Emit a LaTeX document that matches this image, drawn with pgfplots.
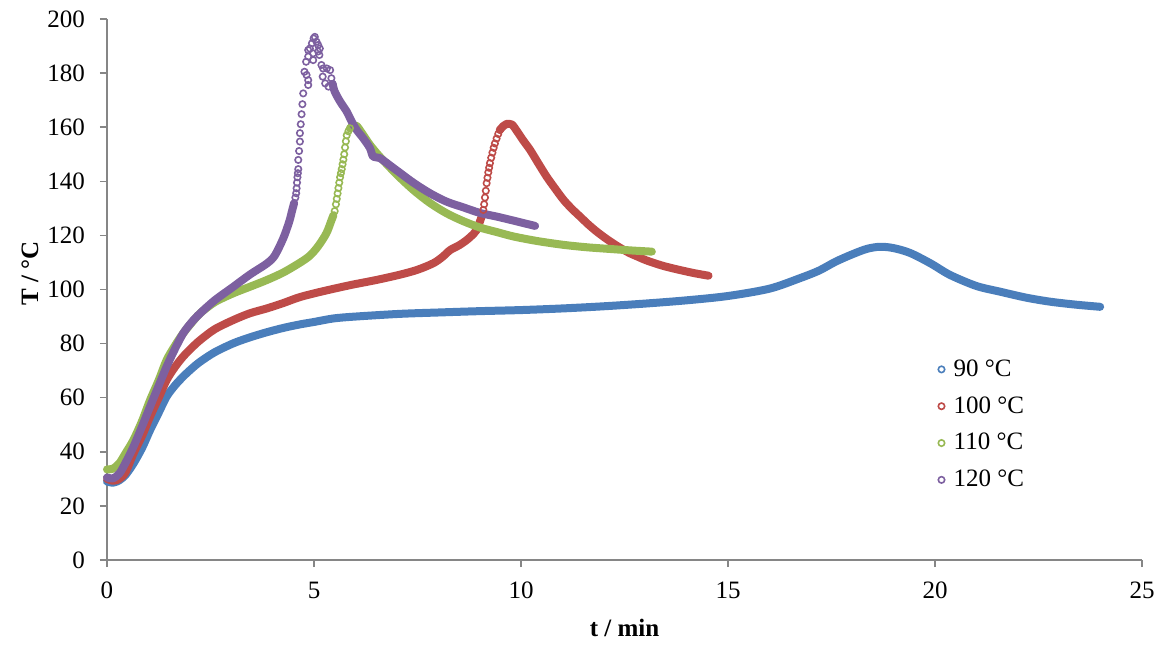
\documentclass[border=0pt]{standalone}
\usepackage{fontspec}
\setmainfont{Liberation Serif}
\usepackage{pgfplots}
\pgfplotsset{compat=1.18}
\definecolor{sblue}{HTML}{4A7EBB}
\definecolor{sred}{HTML}{BE4B48}
\definecolor{sgreen}{HTML}{98B954}
\definecolor{spurple}{HTML}{7D60A0}
\definecolor{axgray}{HTML}{868686}
\begin{document}
\begin{tikzpicture}
\begin{axis}[
  at={(0,0)}, anchor=south west,
  scale only axis, width=517.5pt, height=270.5pt,
  xmin=0, xmax=25, ymin=0, ymax=200,
  xtick={0,5,...,25}, ytick={0,20,...,200},
  axis lines*=left,
  axis line style={axgray, line width=0.75pt},
  tick style={axgray, line width=0.75pt},
  tick align=outside, major tick length=3.5pt,
  /pgf/number format/assume math mode=true,
  font=\fontsize{12.5pt}{14pt}\selectfont,
  ticklabel style={font=\fontsize{12.5pt}{14pt}\selectfont},
  yticklabel style={xshift=-4pt},
  xticklabel style={yshift=-4pt},
  xlabel={\textbf{t / min}}, ylabel={\textbf{T / °C}},
  xlabel style={at={(axis description cs:0.5,0)}, anchor=center, yshift=-34pt},
  ylabel style={at={(axis description cs:-0.0744,0.53)}, anchor=center},
  clip=false,
  legend style={draw=none, fill=none, at={(rel axis cs:0.797,0.386)}, anchor=north west,
    row sep=4.6pt, font=\fontsize{12.5pt}{14pt}\selectfont},
  legend cell align=left,
  dense/.style={line width=4pt, line cap=round, line join=round, smooth, tension=0.5, forget plot},
  sparse/.style={only marks, mark=o, mark size=1.6pt, line width=0.8pt, forget plot},
]
% 90 C
\addplot[sblue, dense] coordinates {(0,29)(0.15,28.6)(0.3,29.5)(0.45,31.5)(0.64,35.7)(0.85,41.5)(1.04,48)(1.25,54.5)(1.44,60.4)(1.64,64.5)(1.84,67.8)(2.05,70.8)(2.25,73.3)(2.6,76.8)(3.05,80.1)(3.45,82.3)(3.86,84.2)(4.26,85.8)(4.66,87.1)(5.0,88)(5.47,89.3)(6.0,90)(7.08,91)(8.0,91.5)(9.0,92)(10,92.4)(11,93)(12,93.8)(13,94.8)(14,96)(15,97.6)(16,100.3)(16.74,104.2)(17.2,107)(17.6,110.3)(18.0,113)(18.35,115)(18.67,115.8)(19.0,115.3)(19.4,113.5)(19.9,109.6)(20.36,105.4)(21.0,101.3)(21.57,99.2)(22.2,97)(22.78,95.5)(23.4,94.4)(23.99,93.6)};
% 100 C
\addplot[sred, dense] coordinates {(0,30)(0.15,29.3)(0.3,30)(0.45,32.5)(0.64,39.4)(0.85,46)(1.04,53)(1.25,60)(1.44,66.5)(1.64,71.3)(1.84,75.2)(2.05,78.5)(2.25,81.3)(2.6,85.3)(3.05,88.7)(3.45,91.2)(3.86,93)(4.26,95)(4.66,97.2)(5.2,99.3)(5.87,101.6)(6.5,103.5)(7.08,105.5)(7.5,107.3)(7.88,109.7)(8.1,112)(8.29,114.6)(8.5,116.3)(8.69,118.3)(8.85,120.5)(8.93,122)(9.01,125.2)(9.06,127.5)};
\addplot[sred, sparse] coordinates {(9.09,129.4)(9.11,131.5)(9.13,134)(9.15,136.5)(9.17,139.3)(9.19,141.3)(9.21,143.3)(9.23,145)(9.25,146.7)(9.28,148.7)(9.31,150.6)(9.34,152.4)(9.37,154)(9.41,155.8)(9.45,157.5)(9.49,159)};
\addplot[sred, dense] coordinates {(9.49,159)(9.57,160.4)(9.65,161.2)(9.78,161)(9.9,158.6)(10.05,155.2)(10.22,151.6)(10.42,146.6)(10.62,141.7)(10.83,137.2)(11.03,133.1)(11.23,129.8)(11.43,126.9)(11.63,124)(11.83,121.4)(12.03,119.1)(12.23,117)(12.43,115.1)(12.63,113.4)(12.84,112)(13.04,110.7)(13.44,108.7)(13.84,107.2)(14.2,106)(14.53,105.1)};
% 110 C
\addplot[sgreen, dense] coordinates {(0,33.5)(0.15,33.8)(0.3,35.8)(0.45,39.5)(0.64,44.4)(0.85,51.5)(1.04,59.1)(1.25,66.5)(1.44,73.9)(1.64,79.2)(1.84,83.8)(2.05,87.8)(2.25,91.2)(2.6,95.3)(3.05,98.6)(3.45,101)(3.86,103.5)(4.26,106.3)(4.66,109.9)(4.9,112.5)(5.1,116)(5.3,120.8)(5.42,125.5)(5.47,127.5)};
\addplot[sgreen, sparse] coordinates {(5.5,129)(5.53,131.5)(5.55,133.5)(5.57,135.5)(5.59,137.5)(5.61,139.5)(5.63,141.5)(5.65,143)(5.67,144.5)(5.69,146.3)(5.71,148)(5.73,150)(5.75,152.5)(5.77,154.8)(5.79,157)(5.83,158.5)(5.87,159.6)};
\addplot[sgreen, dense] coordinates {(5.87,159.6)(5.95,160.6)(6.03,160.5)(6.15,158)(6.35,153.5)(6.59,149.1)(7.0,142.5)(7.4,136.8)(7.8,132)(8.2,128.2)(8.6,125.3)(9.01,122.9)(9.4,121.3)(9.82,119.6)(10.4,117.9)(11.03,116.5)(11.6,115.6)(12.23,114.9)(12.7,114.4)(13.16,114)};
% 120 C
\addplot[spurple, dense] coordinates {(0,30.5)(0.15,30.2)(0.3,32)(0.45,36)(0.64,41.9)(0.85,49.5)(1.04,56.7)(1.25,64.5)(1.44,71.5)(1.64,78)(1.84,83.8)(2.05,88)(2.25,91.2)(2.6,96)(3.05,101)(3.45,105.5)(3.86,109.6)(4.05,112.5)(4.26,119)(4.4,125)(4.46,128.5)(4.52,132)};
\addplot[spurple, sparse] coordinates {(4.55,134)(4.57,135.6)(4.58,137.4)(4.59,139.5)(4.6,141.5)(4.61,143)(4.62,144.5)(4.62,147.9)(4.64,151.2)(4.66,154.7)(4.66,157.8)(4.68,161.1)(4.7,164.8)(4.72,168.5)(4.74,172.5)(4.77,180.5)(4.82,179.3)(4.86,177.4)(4.86,175.6)(4.81,184.2)(4.86,186.1)(4.86,188.5)(4.9,189.1)(4.95,191)(4.99,192.8)(5.02,193.4)(5.06,191.6)(5.1,190.4)(5.14,189.1)(4.98,187.3)(4.98,184.8)(5.13,186.7)(5.1,188)(5.18,183)(5.22,181.7)(5.21,178.7)(5.31,181.7)(5.39,181.1)(5.27,176.2)(5.35,175)(5.42,178.1)(5.45,176)};
\addplot[spurple, dense] coordinates {(5.45,176)(5.5,173.2)(5.63,169.5)(5.79,165.8)(5.91,162.1)(6.03,159)(6.19,155.9)(6.35,152.3)(6.43,149.1)(6.59,148.6)(6.92,144.9)(7.0,144)(7.4,139.5)(7.8,135.6)(8.2,132.5)(8.6,130.4)(9.01,128.3)(9.4,127)(9.73,125.8)(10.34,123.5)};
\addlegendimage{sblue, only marks, mark=o, mark size=1.6pt, line width=0.8pt}
\addlegendentry{\hspace{2.5pt}90 °C}
\addlegendimage{sred, only marks, mark=o, mark size=1.6pt, line width=0.8pt}
\addlegendentry{\hspace{2.5pt}100 °C}
\addlegendimage{sgreen, only marks, mark=o, mark size=1.6pt, line width=0.8pt}
\addlegendentry{\hspace{2.5pt}110 °C}
\addlegendimage{spurple, only marks, mark=o, mark size=1.6pt, line width=0.8pt}
\addlegendentry{\hspace{2.5pt}120 °C}
\end{axis}
\pgfresetboundingbox
\path[use as bounding box] (-53.5pt,-42pt) rectangle (527pt,280pt);
\end{tikzpicture}
\end{document}
